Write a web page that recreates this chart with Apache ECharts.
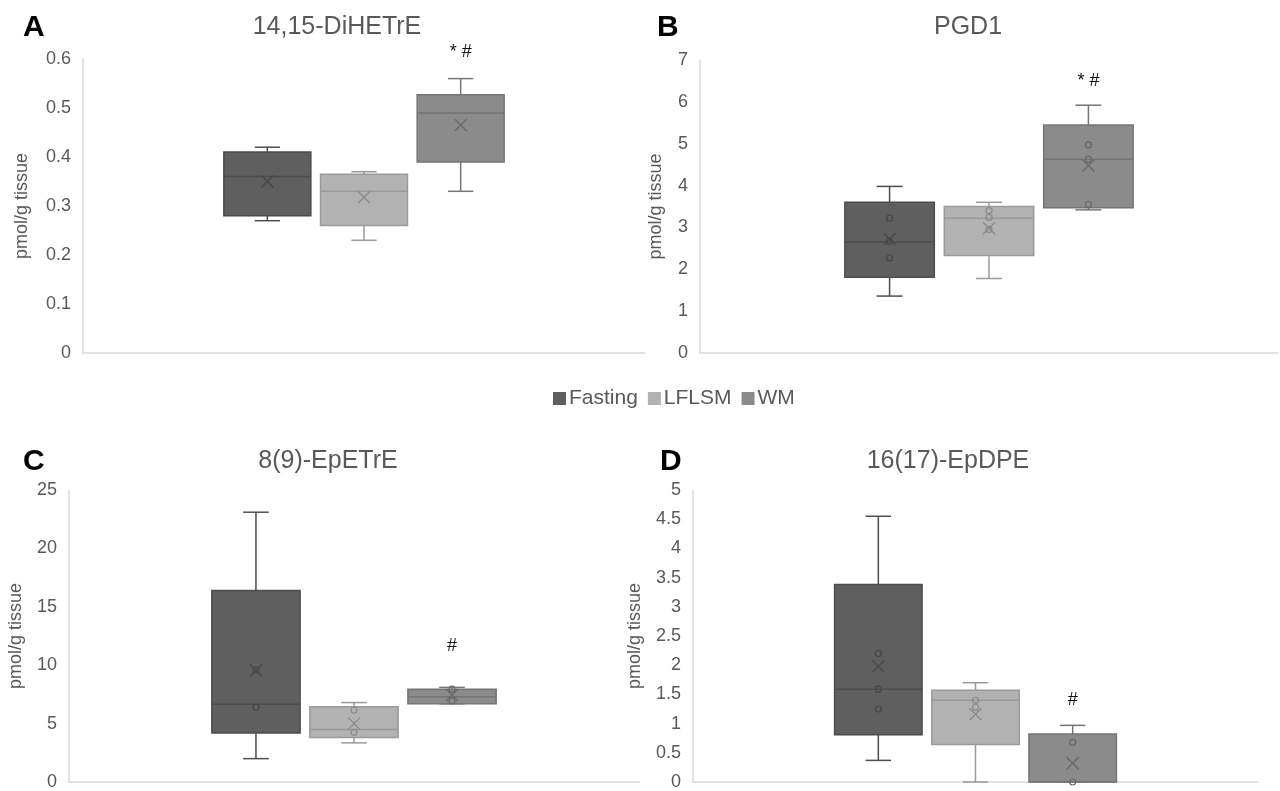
<!DOCTYPE html>
<html>
<head>
<meta charset="utf-8">
<script src="https://cdn.jsdelivr.net/npm/echarts@6/dist/echarts.min.js"></script>
<style>
  html, body { margin: 0; padding: 0; background: #fff; }
  #chart { width: 1280px; height: 791px; }
</style>
</head>
<body>
<div id="chart"></div>
<script>
// groups and panels
const groups = ['Fasting', 'LFLSM', 'WM'];
const panelTitles = ['14,15-DiHETrE', 'PGD1', '8(9)-EpETrE', '16(17)-EpDPE'];
const panelLetters = ['A', 'B', 'C', 'D'];
const yMax = [0.6, 7, 25, 5];
const yStep = [0.1, 1, 5, 0.5];

// box stats per panel: [min, q1, median, q3, max] for Fasting, LFLSM, WM
const boxA = [[0.27, 0.28, 0.36, 0.41, 0.42], [0.23, 0.26, 0.33, 0.365, 0.37], [0.33, 0.39, 0.49, 0.527, 0.56]];
const boxB = [[1.36, 1.81, 2.65, 3.60, 3.98], [1.78, 2.33, 3.22, 3.50, 3.60], [3.42, 3.47, 4.63, 5.45, 5.92]];
const boxC = [[2.0, 4.2, 6.65, 16.4, 23.1], [3.35, 3.8, 4.5, 6.45, 6.8], [6.7, 6.7, 7.3, 7.95, 8.1]];
const boxD = [[0.37, 0.81, 1.59, 3.38, 4.55], [0.0, 0.64, 1.40, 1.57, 1.70], [0.0, 0.0, 0.0, 0.82, 0.97]];

// means (x marks)
const meanA = [0.35, 0.318, 0.465];
const meanB = [2.72, 2.98, 4.48];
const meanC = [9.55, 5.0, 7.45];
const meanD = [1.98, 1.16, 0.32];

// inner points (circles)
const pointsA = [[], [], []];
const pointsB = [[3.22, 2.67, 2.27], [3.40, 3.24, 2.95], [4.97, 4.63, 3.55]];
const pointsC = [[6.4, 9.6], [6.15, 4.25], [7.95, 6.95]];
const pointsD = [[2.20, 1.59, 1.25], [1.40, 1.28], [0.68, 0.0]];

// significance marks above WM
const noteText = ['* #', '* #', '#', '#'];
const noteY = [0.615, 6.5, 11.6, 1.4];

const boxes = [boxA, boxB, boxC, boxD];
const means = [meanA, meanB, meanC, meanD];
const points = [pointsA, pointsB, pointsC, pointsD];

const fills = ['#5f5f5f', '#b2b2b2', '#8b8b8b'];
const strokes = ['#4d4d4d', '#9a9a9a', '#757575'];
const markColors = ['#474747', '#8a8a8a', '#686868'];
const txt = '#595959';
const font = 'Liberation Sans, Arial, sans-serif';

const grids = [
    { left: 83, right: 635, top: 59, bottom: 438 },
    { left: 700, right: 2, top: 60, bottom: 438 },
    { left: 69, right: 641, top: 490, bottom: 8 },
    { left: 693, right: 22, top: 490, bottom: 8 }
];
const nameGaps = [52, 35, 44, 49];

function makeRender(p, g) {
    return function (params, api) {
        const s = boxes[p][g];
        const base = api.coord([0, 0]);
        const band = api.size([1, 0])[0];
        const slot = band * 0.172;
        const cx = base[0] + (g - 1) * slot;
        const w = slot * 0.9;
        const cap = w * 0.29;
        const y = v => api.coord([0, v])[1];
        const lineStyle = { stroke: strokes[g], lineWidth: 1.5 };
        const children = [
            { type: 'line', shape: { x1: cx, y1: y(s[4]), x2: cx, y2: y(s[3]) }, style: lineStyle },
            { type: 'line', shape: { x1: cx, y1: y(s[1]), x2: cx, y2: y(s[0]) }, style: lineStyle },
            { type: 'line', shape: { x1: cx - cap / 2, y1: y(s[4]), x2: cx + cap / 2, y2: y(s[4]) }, style: lineStyle },
            { type: 'line', shape: { x1: cx - cap / 2, y1: y(s[0]), x2: cx + cap / 2, y2: y(s[0]) }, style: lineStyle },
            { type: 'rect', shape: { x: cx - w / 2, y: y(s[3]), width: w, height: y(s[1]) - y(s[3]) },
              style: { fill: fills[g], stroke: strokes[g], lineWidth: 1.5 } },
            { type: 'line', shape: { x1: cx - w / 2, y1: y(s[2]), x2: cx + w / 2, y2: y(s[2]) },
              style: { stroke: strokes[g], lineWidth: 1.5 } }
        ];
        const m = y(means[p][g]);
        const r = 6;
        const mark = { stroke: markColors[g], lineWidth: 1.3 };
        children.push({ type: 'line', shape: { x1: cx - r, y1: m - r, x2: cx + r, y2: m + r }, style: mark });
        children.push({ type: 'line', shape: { x1: cx - r, y1: m + r, x2: cx + r, y2: m - r }, style: mark });
        points[p][g].forEach(v => {
            children.push({ type: 'circle', shape: { cx: cx, cy: y(v), r: 3 },
                style: { fill: 'none', stroke: markColors[g], lineWidth: 1.2 } });
        });
        if (g === 2) {
            children.push({ type: 'text', x: cx, y: y(noteY[p]),
                style: { text: noteText[p], fill: '#111', font: '18px ' + font, align: 'center', verticalAlign: 'middle' } });
        }
        return { type: 'group', children: children };
    };
}

const chart = echarts.init(document.getElementById('chart'));

const titles = [];
const titleX = [332, 963, 323, 943];
const letterX = [18, 652, 18, 655];
panelTitles.forEach((t, i) => {
    const top = i < 2 ? 10 : 444;
    titles.push({ text: t, left: titleX[i], top: top, textAlign: 'center',
        textStyle: { fontSize: 25, fontWeight: 'normal', color: txt, fontFamily: font } });
    titles.push({ text: panelLetters[i], left: letterX[i], top: top - 2,
        textStyle: { fontSize: 30, fontWeight: 'bold', color: '#000', fontFamily: font } });
});

const series = [];
for (let p = 0; p < 4; p++) {
    for (let g = 0; g < 3; g++) {
        series.push({
            name: groups[g],
            type: 'custom',
            xAxisIndex: p,
            yAxisIndex: p,
            itemStyle: { color: fills[g] },
            renderItem: makeRender(p, g),
            encode: { x: 0, y: [1, 2, 3, 4, 5] },
            data: [[0].concat(boxes[p][g])],
            silent: true
        });
    }
}

chart.setOption({
    animation: false,
    title: titles,
    legend: {
        data: groups,
        left: 548,
        top: 383,
        icon: 'rect',
        itemWidth: 13,
        itemHeight: 13,
        itemGap: 10,
        textStyle: { fontSize: 21, color: txt, fontFamily: font, padding: [0, 0, 0, -2] }
    },
    grid: grids,
    xAxis: grids.map((_, i) => ({
        type: 'category',
        gridIndex: i,
        data: [''],
        axisLine: { lineStyle: { color: '#d9d9d9', width: 1.5 } },
        axisTick: { show: false },
        axisLabel: { show: false }
    })),
    yAxis: grids.map((_, i) => ({
        type: 'value',
        gridIndex: i,
        min: 0,
        max: yMax[i],
        interval: yStep[i],
        name: 'pmol/g tissue',
        nameLocation: 'middle',
        nameGap: nameGaps[i],
        nameTextStyle: { fontSize: 18, color: txt, fontFamily: font },
        axisLine: { show: true, lineStyle: { color: '#d9d9d9', width: 1.5 } },
        axisTick: { show: false },
        splitLine: { show: false },
        axisLabel: { fontSize: 18, color: txt, fontFamily: font, margin: 12 }
    })),
    series: series
});
</script>
</body>
</html>
